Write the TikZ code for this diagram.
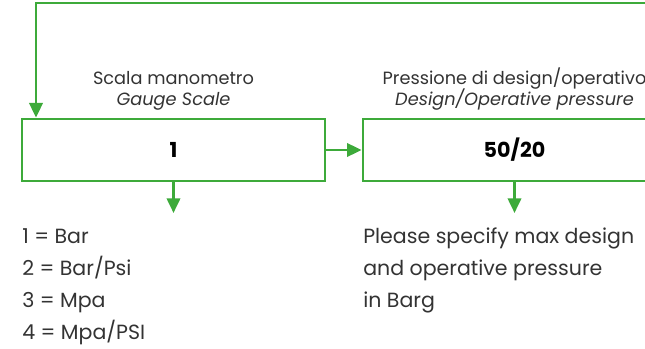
\documentclass[tikz,border=0pt]{standalone}
\usepackage{xcolor}
\usepackage{fontspec}
\setmainfont{Poppins}
\usepackage{tikz}
\usetikzlibrary{arrows.meta}
\definecolor{gaugegreen}{HTML}{3DAA3A}
\definecolor{txtgrey}{HTML}{333333}

\begin{document}
\begin{tikzpicture}[x=0.75pt,y=-0.75pt,
		codebox/.style={draw=gaugegreen,line width=2pt,minimum width=227.25pt,minimum height=46.5pt,inner sep=0pt,font=\bfseries\fontsize{15.5}{18}\selectfont,text=black},
		headtxt/.style={anchor=base,inner sep=0pt,text=txtgrey,font=\fontsize{13.3}{16}\selectfont},
		listtxt/.style={anchor=base west,inner sep=0pt,text=txtgrey,font=\fontsize{15.4}{18}\selectfont},
		flow/.style={draw=gaugegreen,line width=2pt,-{Triangle[length=11pt,width=10pt]}}]
			\useasboundingbox (0,0) rectangle (645,349);
			\clip (0,0) rectangle (645,349);
			% boxes
			\node[codebox] (gauge) at (173.5,150) {1};
			\node[codebox] (press) at (514.5,150) {50/20};
			% headings
			\node[headtxt] (gaugeit) at (173.5,85) {Scala manometro};
			\node[headtxt] (gaugeen) at (173.5,106) {\itshape Gauge Scale};
			\node[headtxt] (pressit) at (514.5,85) {Pressione di design/operativo};
			\node[headtxt] (pressen) at (514.5,106) {\itshape Design/Operative pressure};
			% option lists
			\foreach \t [count=\i from 0] in {1 = Bar,2 = Bar/Psi,3 = Mpa,4 = Mpa/PSI} {
				\node[listtxt] (scale\i) at (22,243+32*\i) {\t};
			}
			\foreach \t [count=\i from 0] in {Please specify max design,and operative pressure,in Barg} {
				\node[listtxt] (note\i) at (363,243+32*\i) {\t};
			}
			\coordinate (gaugeout) at (173.5,213);
			\coordinate (pressout) at (514.5,213);
			\coordinate (loopin) at (650,3);
			% connectors
			\draw[flow] (gauge.south) -- (gaugeout);
			\draw[flow] (press.south) -- (pressout);
			\draw[flow] (gauge.east) -- (press.west);
			\draw[flow] (loopin) -- (36,3) -- (36,0 |- gauge.north);
		\end{tikzpicture}
\end{document}
